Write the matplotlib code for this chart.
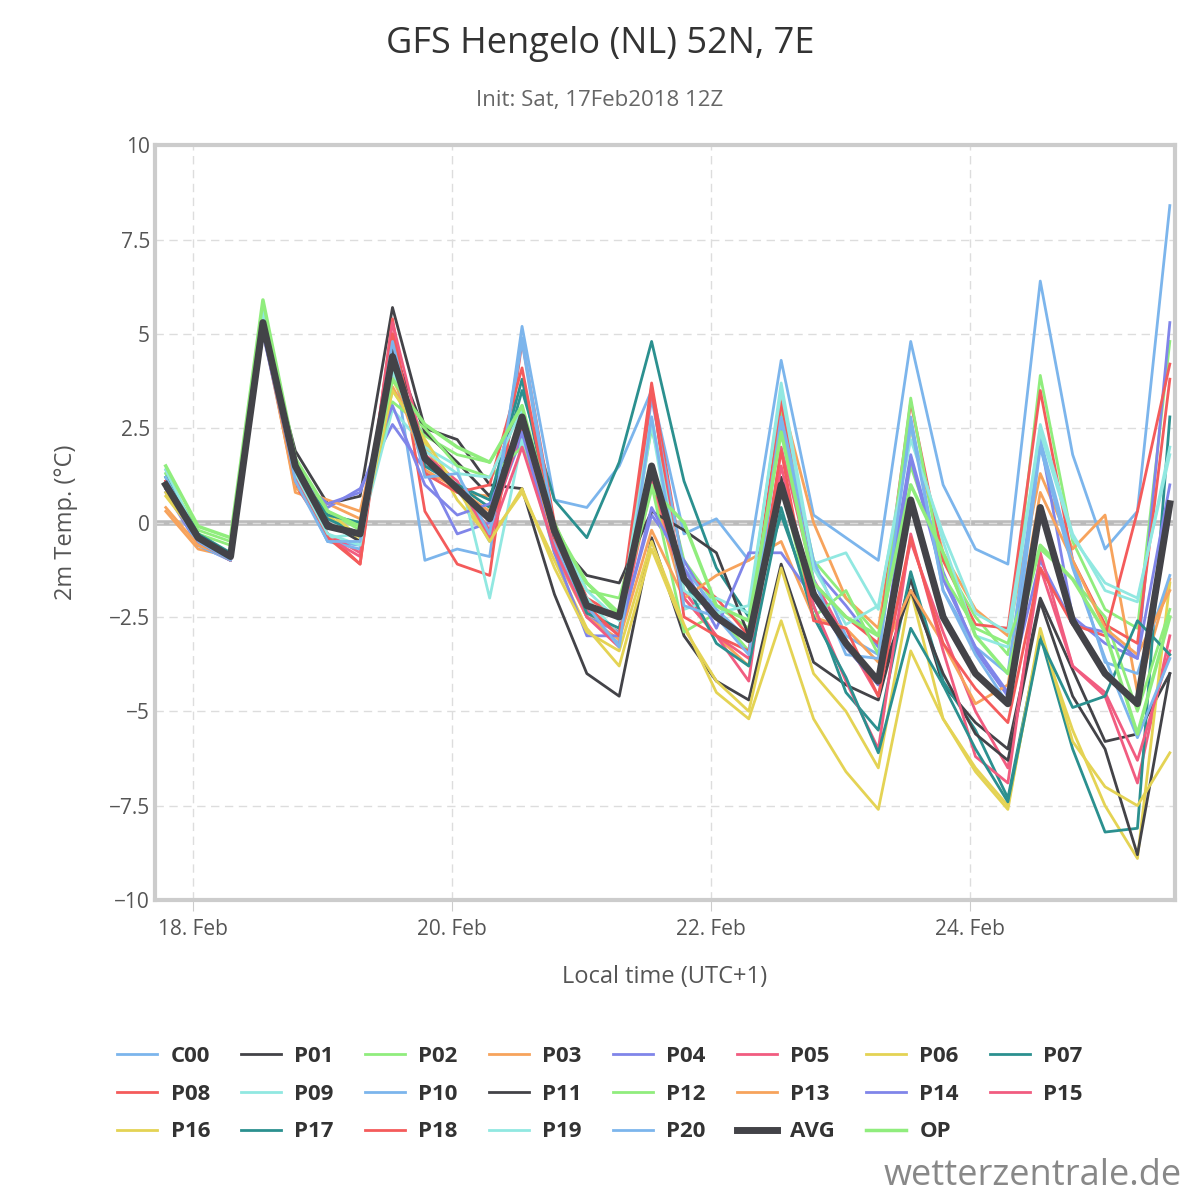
import matplotlib
matplotlib.use("Agg")
import matplotlib.pyplot as plt
import numpy as np

# hours since 18 Feb 00:00 local time, 6-hourly from 17 Feb 19:00
hours = list(range(-5, 182, 6))

tick_days = [0, 2, 4, 6]
tick_labels = ["18. Feb", "20. Feb", "22. Feb", "24. Feb"]

members = {
    "C00": [1.4,-0.5,-1.0,5.2,1.2,-0.5,-0.6,4.5,-1.0,-0.7,-0.9,5.2,0.6,0.4,1.5,3.5,-0.3,0.1,-1.0,4.3,0.2,-0.4,-1.0,4.8,1.0,-0.7,-1.1,6.4,1.8,-0.7,0.3,8.4],
    "P01": [0.9,-0.3,-0.9,5.2,1.9,0.5,0.7,5.7,2.5,2.2,1.0,0.9,-1.9,-4.0,-4.6,-0.4,-3.0,-4.2,-4.7,-1.1,-3.7,-4.3,-4.7,-1.5,-4.3,-5.3,-6.0,-2.0,-3.9,-5.8,-5.6,-4.0],
    "P02": [1.2,-0.2,-0.5,5.5,1.3,0.3,-0.2,3.5,2.3,1.8,1.6,3.0,-0.3,-1.6,-2.5,2.5,-1.0,-2.2,-2.8,3.0,-1.0,-2.0,-3.0,1.5,-1.0,-2.5,-3.5,3.9,-0.5,-2.3,-2.8,4.8],
    "P03": [0.3,-0.7,-0.9,5.3,0.8,0.5,0.1,3.6,2.0,0.8,0.7,2.2,-0.5,-2.4,-2.9,1.0,-2.0,-3.0,-3.8,3.3,0.0,-2.0,-2.8,2.5,-0.8,-2.3,-3.0,1.3,-0.7,0.2,-4.5,-1.5],
    "P04": [0.8,-0.6,-1.0,5.1,1.0,0.4,0.9,2.6,1.4,-0.3,0.0,2.3,-0.5,-2.5,-2.9,0.2,-1.0,-2.5,-3.0,2.6,-1.2,-2.2,-3.3,1.8,-1.3,-3.4,-4.6,2.2,-2.5,-3.2,-3.6,5.3],
    "P05": [1.1,-0.4,-0.9,5.3,1.2,-0.3,-0.8,5.0,1.3,1.0,-0.2,2.5,-0.6,-2.3,-3.0,1.2,-1.8,-3.0,-4.2,2.0,-1.5,-3.1,-4.6,-0.5,-2.9,-5.0,-6.5,-1.2,-3.8,-4.6,-6.9,-3.0],
    "P06": [0.7,-0.4,-0.9,5.2,1.1,0.2,-0.5,3.8,2.1,0.6,-0.4,0.8,-1.0,-2.8,-3.8,-0.7,-2.8,-4.2,-5.0,-1.2,-4.0,-5.0,-6.5,-1.8,-5.2,-6.5,-7.5,-3.0,-5.5,-7.5,-8.9,-1.6],
    "P07": [1.0,-0.3,-0.9,5.3,1.6,0.1,-0.3,4.0,1.7,1.0,0.4,3.5,0.6,-0.4,1.6,4.8,1.1,-1.2,-2.5,0.2,-2.2,-4.5,-5.5,-1.3,-4.2,-5.5,-7.3,-3.0,-6.0,-8.2,-8.1,2.8],
    "P08": [1.0,-0.5,-1.0,5.2,1.0,-0.3,-1.1,5.4,0.3,-1.1,-1.4,4.8,0.0,-2.0,-2.5,3.7,-1.3,-2.0,-3.0,3.2,-1.6,-2.5,-3.2,3.2,-1.0,-2.7,-2.8,3.5,-1.0,-2.7,-3.2,3.8],
    "P09": [1.3,-0.5,-0.9,5.5,1.2,-0.4,-0.3,3.0,2.0,1.5,-2.0,2.2,-0.8,-2.0,-3.0,2.6,-2.3,-2.0,-2.4,3.7,-1.1,-0.8,-2.3,2.5,-0.5,-3.0,-3.3,2.6,-0.3,-1.8,-2.1,2.0],
    "P10": [1.0,-0.6,-1.0,5.3,1.3,-0.5,-0.7,4.3,1.5,1.0,-0.5,4.8,-0.5,-2.5,-3.2,3.3,-1.2,-2.3,-3.1,2.8,-1.0,-3.0,-3.5,2.8,-1.8,-3.3,-4.0,2.2,-1.0,-3.7,-4.0,-1.4],
    "P11": [0.9,-0.4,-0.9,5.2,1.5,0.0,-0.5,4.6,2.4,1.6,0.7,2.6,-0.4,-1.4,-1.6,0.3,-0.2,-0.8,-3.0,1.2,-1.8,-3.3,-4.3,-1.8,-4.0,-5.6,-6.3,-2.1,-4.6,-6.0,-8.8,-4.0],
    "P12": [1.3,-0.3,-0.6,5.7,1.4,0.2,0.0,3.2,2.5,1.5,1.2,2.0,0.0,-1.8,-2.0,1.0,-2.9,-2.4,-3.4,1.0,-2.5,-1.8,-3.5,3.3,-1.4,-2.8,-3.2,-0.7,-1.5,-2.5,-5.0,-2.3],
    "P13": [0.4,-0.6,-0.9,5.1,0.9,0.6,0.3,4.0,1.4,0.9,0.3,2.7,-0.8,-2.5,-3.1,-0.2,-2.0,-1.4,-1.0,-0.5,-2.5,-2.8,-3.7,-1.8,-3.2,-4.8,-4.3,0.8,-1.0,-2.8,-3.5,-1.8],
    "P14": [0.9,-0.5,-1.0,5.0,1.2,0.5,0.8,3.1,1.0,0.2,0.5,2.4,-0.8,-3.0,-3.0,0.4,-1.2,-2.8,-0.8,-0.8,-2.0,-3.3,-4.3,1.7,-1.5,-3.3,-4.5,-1.0,-2.7,-2.9,-3.6,1.0],
    "P15": [1.1,-0.5,-1.0,5.4,1.2,-0.4,-0.9,5.3,1.8,1.1,-0.4,2.0,-0.7,-2.5,-3.3,3.5,-2.0,-3.0,-3.6,1.5,-2.2,-4.2,-6.0,-0.3,-3.4,-6.2,-6.9,-0.8,-3.8,-4.5,-6.3,-3.4],
    "P16": [0.8,-0.4,-0.8,5.3,1.3,0.3,-0.4,3.5,2.2,0.9,-0.5,0.9,-1.2,-2.9,-3.4,-0.5,-2.7,-4.5,-5.2,-2.6,-5.2,-6.6,-7.6,-3.4,-5.2,-6.6,-7.6,-2.8,-5.8,-7.0,-7.5,-6.1],
    "P17": [1.2,-0.3,-0.8,5.4,1.4,0.2,0.0,4.2,1.5,1.0,0.6,3.8,-0.3,-2.4,-2.8,1.4,-1.5,-3.2,-3.8,0.4,-2.5,-4.1,-6.1,-2.8,-4.3,-6.0,-7.4,-3.1,-4.9,-4.6,-2.6,-3.5],
    "P18": [1.1,-0.5,-1.0,5.2,1.1,-0.4,-1.1,5.0,1.3,0.8,1.0,4.1,-0.4,-2.2,-3.0,3.6,-2.5,-3.0,-3.4,1.9,-2.6,-2.8,-4.6,-0.4,-3.2,-4.4,-5.3,-1.2,-2.7,-3.0,0.3,4.2],
    "P19": [1.4,-0.4,-0.9,5.6,1.3,-0.3,-0.6,4.0,1.9,1.3,1.2,3.0,-0.2,-1.8,-2.6,2.8,-1.8,-2.4,-2.2,3.5,-1.2,-2.7,-2.2,2.2,-0.3,-2.4,-2.9,2.4,-0.4,-1.6,-2.0,1.8],
    "P20": [1.2,-0.5,-1.0,5.3,1.1,-0.5,-0.5,4.8,1.2,1.3,-0.3,4.9,-0.2,-2.2,-3.3,2.8,-2.2,-2.5,-3.5,2.7,-1.5,-3.5,-3.6,2.6,-1.8,-3.5,-4.8,2.0,-1.2,-3.6,-5.7,-3.6],
}
avg = [1.0,-0.4,-0.9,5.3,1.5,-0.1,-0.3,4.4,1.7,0.9,0.1,2.8,-0.2,-2.2,-2.5,1.5,-1.5,-2.5,-3.1,1.0,-1.9,-3.2,-4.2,0.6,-2.5,-4.0,-4.8,0.4,-2.6,-4.0,-4.8,0.5]
op = [1.5,-0.1,-0.4,5.9,1.7,0.3,-0.1,3.8,2.6,2.0,1.6,3.1,-0.1,-1.6,-2.4,0.9,0.0,-2.2,-2.6,2.4,-1.6,-2.5,-3.0,1.0,-0.8,-3.0,-4.0,-0.6,-1.5,-2.9,-5.6,-2.5]

palette = ["#7cb5ec", "#434348", "#90ed7d", "#f7a35c", "#8085e9",
           "#f15c80", "#e4d354", "#2b908f", "#f45b5b", "#91e8e1"]

plt.rcParams["font.family"] = ["Open Sans", "DejaVu Sans"]
fig = plt.figure(figsize=(12, 12), dpi=100)
ax = fig.add_axes([0.129, 0.25, 0.85, 0.629])

x = np.array(hours) / 24.0
for i, (name, vals) in enumerate(members.items()):
    ax.plot(x, vals, color=palette[i % 10], lw=2, label=name)
ax.plot(x, avg, color="#434348", lw=5, label="AVG", zorder=5)
ax.plot(x, op, color="#90ed7d", lw=2.5, label="OP", zorder=4)

ax.axhline(0, color="#bbbbbb", lw=4, zorder=0)
ax.set_xlim(-0.293, 7.58)
ax.set_ylim(-10, 10)
ax.set_yticks([10, 7.5, 5, 2.5, 0, -2.5, -5, -7.5, -10])
ax.set_yticklabels(["10", "7.5", "5", "2.5", "0", "\u22122.5", "\u22125", "\u22127.5", "\u221210"])
ax.set_xticks(tick_days)
ax.set_xticklabels(tick_labels)
ax.grid(True, ls=(0, (6, 4)), color="#dddddd", lw=1)
ax.tick_params(colors="#555555", labelsize=15, length=0)
ax.tick_params(axis="x", length=8, color="#cccccc", pad=6)
for s in ax.spines.values():
    s.set_color("#cccccc")
    s.set_linewidth(3)
ax.set_ylabel("2m Temp. (\u00b0C)", fontsize=17, color="#555555", labelpad=22)
ax.set_xlabel("Local time (UTC+1)", fontsize=17, color="#555555", labelpad=18)

fig.text(0.5, 0.978, "GFS Hengelo (NL) 52N, 7E", ha="center", va="top", fontsize=26, color="#333333")
fig.text(0.5, 0.925, "Init: Sat, 17Feb2018 12Z", ha="center", va="top", fontsize=16, color="#666666")

# legend is filled row by row in the reference; matplotlib fills columns
h, l = ax.get_legend_handles_labels()
ncol = 8
order = [r * ncol + c for c in range(ncol) for r in range(3) if r * ncol + c < len(h)]
leg = fig.legend([h[k] for k in order], [l[k] for k in order], loc="upper center",
                 bbox_to_anchor=(0.5, 0.145), ncol=ncol, frameon=False,
                 prop={"size": 16, "weight": "bold"}, labelcolor="#333333",
                 handlelength=1.8, columnspacing=1.4, handletextpad=0.6, labelspacing=0.75)
fig.text(0.985, 0.005, "wetterzentrale.de", ha="right", va="bottom", fontsize=26, color="#888888")

fig.savefig("out.png", dpi=100)
